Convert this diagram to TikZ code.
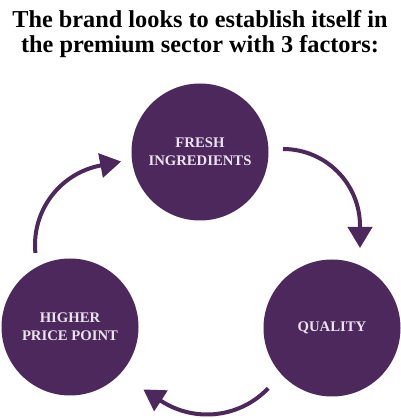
\documentclass[tikz,border=0pt]{standalone}
\usepackage{fontspec}
\setmainfont{Liberation Serif}
\usetikzlibrary{arrows.meta,calc}
\definecolor{plum}{RGB}{77,40,92}
\definecolor{paletext}{RGB}{234,226,236}
\begin{document}
\begin{tikzpicture}[x=1pt,y=1pt,
  factor/.style={circle,fill=plum,minimum size=137pt,inner sep=0pt,align=center,
    text=paletext,font=\bfseries\fontsize{14.7}{18}\selectfont},
  titletext/.style={anchor=base,inner sep=0pt,font=\bfseries\fontsize{24.3}{25}\selectfont},
  cyclearrow/.style={draw=plum,line width=4pt,-{Triangle[width=24pt,length=21pt]}}]
\useasboundingbox (0,0) rectangle (400,418);
\node[titletext] (t1) at (200,390) {The brand looks to establish itself in};
\node[titletext] (t2) at (200,365) {the premium sector with 3 factors:};
\node[factor] (fresh) at (200,266) {FRESH\\INGREDIENTS};
\node[factor] (quality) at (332,90) {QUALITY};
\node[factor] (price) at (70,91) {HIGHER\\PRICE POINT};
\coordinate (a1) at (283,269);
\coordinate (a2) at ($(207,88)+(-43.6:84.5)$);
\coordinate (a3) at ($(116,173)+(185.6:81)$);
\draw[cyclearrow] (a1) arc[start angle=90,end angle=0,radius=77pt] -- ++(-90:22);
\draw[cyclearrow] (a2) arc[start angle=-43.6,end angle=-123,radius=84.5pt] -- ++(147:21);
\draw[cyclearrow] (a3) arc[start angle=185.6,end angle=101,radius=81pt] -- ++(11:21);
\end{tikzpicture}
\end{document}
